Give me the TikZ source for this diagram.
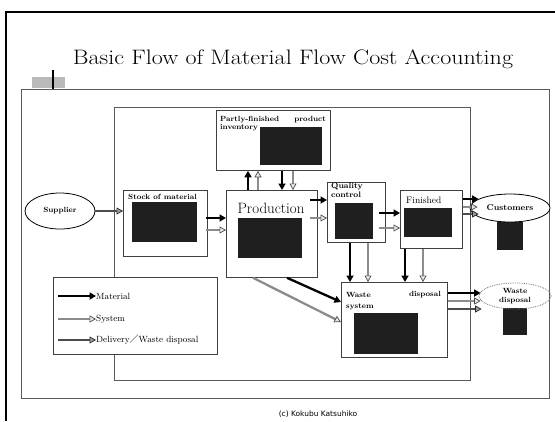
\documentclass[tikz,border=0pt]{standalone}
\usepackage{fontspec}
\newfontfamily\capfont{DejaVu Sans}
\newfontfamily\cjk{Noto Sans CJK JP}
\usetikzlibrary{arrows.meta,shapes.geometric,calc}

\tikzset{
  frame/.style={draw=black!65, line width=0.6bp, anchor=north west, inner sep=0pt, rectangle},
  box/.style={draw=black!75, line width=0.8bp, fill=white, anchor=north west, inner sep=0pt, rectangle},
  dark/.style={fill=black!88, draw=none, anchor=north west, inner sep=0pt, rectangle},
  oval/.style={ellipse, draw=black, line width=0.8bp, fill=white, inner sep=0pt},
  mat/.style={draw=black, line width=2.3bp, -{Triangle[length=6.5bp,width=7bp]}},
  sys/.style={draw=black!45, line width=2.3bp, -{Triangle[length=6.5bp,width=7bp,fill=gray!20,color=black!70,line width=0.7bp]}},
  del/.style={draw=black!70, line width=2.3bp, -{Triangle[length=6.5bp,width=7bp,fill=black!40,color=black!85,line width=0.7bp]}},
  lbl/.style={anchor=west, inner sep=0pt, font=\fontsize{7.5}{8}\selectfont\bfseries},
  txt/.style={anchor=west, inner sep=0pt, font=\fontsize{9.5}{10}\selectfont},
  leg/.style={anchor=west, inner sep=0pt, font=\fontsize{9}{9}\selectfont},
}

\begin{document}
\begin{tikzpicture}[x=1bp,y=-1bp]
\useasboundingbox (0,0) rectangle (555,421);

% page edges
\draw[line width=1.5bp] (5,12) -- (555,12);
\draw[line width=2.5bp] (6,12) -- (6,421);

% title and marker
\node[inner sep=0pt] (title) at (293,59) {\resizebox{440bp}{\height}{\fontsize{21}{21}\selectfont Basic Flow of Material Flow Cost Accounting}};
\fill[gray!55] (32,77) rectangle (65,88);
\draw[line width=1.2bp] (53,70) -- (53,89);

% frames
\node[frame, minimum width=528bp, minimum height=309bp] (outer) at (21,89) {};
\node[frame, minimum width=356bp, minimum height=273bp] (inner) at (114,107) {};

% process boxes
\node[box, minimum width=114bp, minimum height=60bp] (inv) at (216,110) {};
\node[dark, minimum width=62bp, minimum height=38bp] (invd) at (260,127) {};
\node[lbl] (invt1) at (220,120) {Partly-finished};
\node[lbl, anchor=east] (invt2) at (326,120) {product};
\node[lbl] (invt3) at (220,128) {inventory};

\node[box, minimum width=84bp, minimum height=66bp] (stock) at (123,190) {};
\node[dark, minimum width=65bp, minimum height=40bp] (stockd) at (132,202) {};
\node[lbl] (stockt) at (128,197) {Stock of material};

\node[box, minimum width=91bp, minimum height=87bp] (prod) at (226,190) {};
\node[dark, minimum width=64bp, minimum height=40bp] (prodd) at (238,218) {};
\node[font=\fontsize{15}{15}\selectfont, inner sep=0pt] (prodt) at (271,208) {Production};

\node[box, minimum width=58bp, minimum height=60bp] (qc) at (327,182) {};
\node[dark, minimum width=38bp, minimum height=36bp] (qcd) at (335,203) {};
\node[anchor=north west, inner sep=0pt, align=left, font=\fontsize{8}{9}\selectfont\bfseries] (qct) at (331,183) {Quality\\control};

\node[box, minimum width=62bp, minimum height=58bp] (fin) at (400,190) {};
\node[dark, minimum width=48bp, minimum height=29bp] (find) at (404,208) {};
\node[txt] (fint) at (406,200) {Finished};

\node[box, minimum width=106bp, minimum height=75bp] (waste) at (341,282) {};
\node[dark, minimum width=64bp, minimum height=41bp] (wasted) at (354,313) {};
\node[lbl] (wastet1) at (346,295) {Waste};
\node[lbl, anchor=east] (wastet2) at (441,295) {disposal};
\node[lbl] (wastet3) at (346,307) {system};

% outside parties
\node[oval, minimum width=70bp, minimum height=36bp, font=\fontsize{7.5}{8}\selectfont\bfseries] (sup) at (60,211) {Supplier};
\node[dark, minimum width=26bp, minimum height=28bp] (custd) at (497,222) {};
\node[oval, minimum width=80bp, minimum height=28bp, font=\fontsize{8.5}{8.5}\selectfont\bfseries] (cust) at (510,208) {Customers};
\node[dark, minimum width=24bp, minimum height=27bp] (wdd) at (503,308) {};
\node[oval, draw=black!55, densely dotted, fill=none, minimum width=72bp, minimum height=26bp, align=center, font=\fontsize{7.5}{8.5}\selectfont\bfseries] (wd) at (515,296) {Waste\\disposal};

% flows
\draw[del] (sup.east) -- (stock.west |- sup.east);
\draw[mat] (stock.east |- 0,218) ++(-2,0) -- (prod.west |- 0,218);
\draw[sys] (stock.east |- 0,230) ++(-2,0) -- (prod.west |- 0,230);

\draw[mat] (prod.north -| 248,0) -- (inv.south -| 248,0);
\draw[sys] (prod.north -| 258,0) -- (inv.south -| 258,0);
\draw[mat] (inv.south -| 282,0) -- (prod.north -| 282,0);
\draw[sys] (inv.south -| 293,0) -- (prod.north -| 293,0);

\draw[mat] (prod.east |- 0,200) ++(-8,0) -- (qc.west |- 0,200);
\draw[sys] (prod.east |- 0,218) ++(-8,0) -- (qc.west |- 0,218);

\draw[mat] (qc.east |- 0,213) ++(-7,0) -- (fin.west |- 0,213);
\draw[sys] (qc.east |- 0,228) ++(-7,0) -- (fin.west |- 0,228);

\draw[mat] (fin.east |- 0,199) -- ($(cust.west |- 0,199)+(9,0)$);
\draw[sys] (fin.east |- 0,207) -- ($(cust.west |- 0,207)+(8,0)$);
\draw[del] (fin.east |- 0,214) -- ($(cust.west |- 0,214)+(9,0)$);

\draw[mat] (qc.south -| 350,0) -- (waste.north -| 350,0);
\draw[sys] (qc.south -| 368,0) -- (waste.north -| 368,0);
\draw[mat] (fin.south -| 405,0) -- (waste.north -| 405,0);
\draw[sys] (fin.south -| 423,0) -- (waste.north -| 423,0);

\draw[mat] (prod.south -| 287,0) -- (waste.west |- 0,302);
\draw[sys] (prod.south -| 253,0) -- (waste.west |- 0,322);

\draw[mat] (waste.east |- 0,293) -- ($(wd.west |- 0,293)+(2,0)$);
\draw[sys] (waste.east |- 0,301) -- ($(wd.west |- 0,301)+(2,0)$);
\draw[del] (waste.east |- 0,309) -- ($(wd.west |- 0,309)+(3,0)$);

% legend
\node[box, minimum width=164bp, minimum height=77bp] (legend) at (53,277) {};
\node[leg] (legm) at (96,296) {Material};
\node[leg] (legs) at (96,319) {System};
\node[leg] (legd) at (96,340) {Delivery{\cjk ／}Waste disposal};
\coordinate (lm) at (58,296);
\coordinate (ls) at (58,319);
\coordinate (ld) at (58,340);
\draw[mat] (lm) -- (legm.west);
\draw[sys] (ls) -- (legs.west);
\draw[del] (ld) -- (legd.west);

% credit
\node[font=\capfont\fontsize{7.5}{8}\selectfont, inner sep=0pt] (credit) at (318,414) {(c) Kokubu Katsuhiko};
\end{tikzpicture}
\end{document}
